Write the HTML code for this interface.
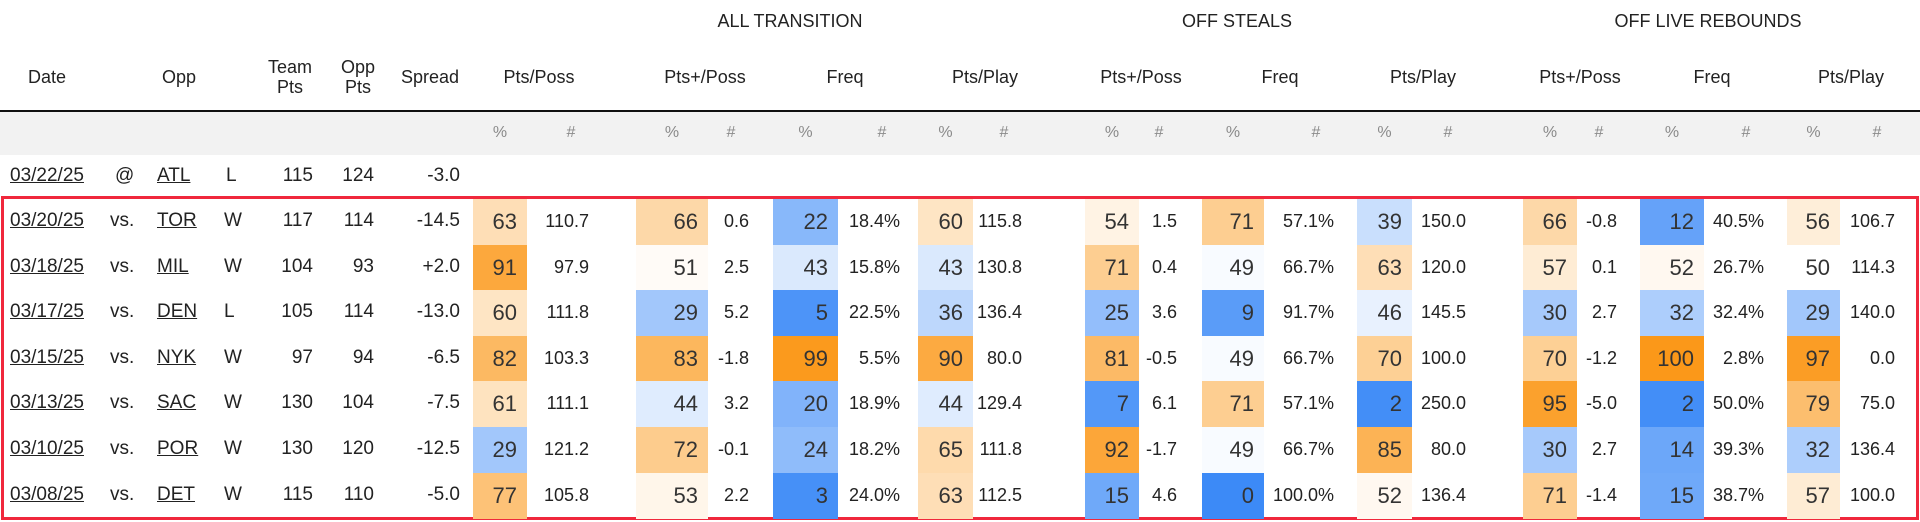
<!DOCTYPE html>
<html><head><meta charset="utf-8">
<style>
body{margin:0;width:1920px;height:522px;background:#fff;overflow:hidden;position:relative;font-family:"Liberation Sans",sans-serif;color:#222}
.a{position:absolute;white-space:nowrap}
.h{font-size:18px;color:#222;text-align:center;transform:translateX(-50%)}
.sub{font-size:16px;color:#8a8a8a;transform:translateX(-50%);top:124px}
.r{text-align:right;transform:translateX(-100%)}
</style></head>
<body>
<div class="a" style="left:0;top:110px;width:1920px;height:2px;background:#111"></div>
<div class="a" style="left:0;top:112px;width:1920px;height:43px;background:#f2f2f2"></div>
<div class="a" style="left:1px;top:196px;width:1912px;height:318px;border:3px solid #f0283c"></div>
<div id="root"></div>
<script>
const dates=["03/20/25","03/18/25","03/17/25","03/15/25","03/13/25","03/10/25","03/08/25"];
const opps=["TOR","MIL","DEN","NYK","SAC","POR","DET"];
const results=["W","W","L","W","W","W","W"];
const teamPts=[117,104,105,97,130,130,115];
const oppPts=[114,93,114,94,104,120,110];
const spreads=["-14.5","+2.0","-13.0","-6.5","-7.5","-12.5","-5.0"];
const ppPct=[63,91,60,82,61,29,77];
const ppVal=["110.7","97.9","111.8","103.3","111.1","121.2","105.8"];
const atPtsPct=[66,51,29,83,44,72,53];
const atPtsVal=["0.6","2.5","5.2","-1.8","3.2","-0.1","2.2"];
const atFreqPct=[22,43,5,99,20,24,3];
const atFreqVal=["18.4%","15.8%","22.5%","5.5%","18.9%","18.2%","24.0%"];
const atPlayPct=[60,43,36,90,44,65,63];
const atPlayVal=["115.8","130.8","136.4","80.0","129.4","111.8","112.5"];
const osPtsPct=[54,71,25,81,7,92,15];
const osPtsVal=["1.5","0.4","3.6","-0.5","6.1","-1.7","4.6"];
const osFreqPct=[71,49,9,49,71,49,0];
const osFreqVal=["57.1%","66.7%","91.7%","66.7%","57.1%","66.7%","100.0%"];
const osPlayPct=[39,63,46,70,2,85,52];
const osPlayVal=["150.0","120.0","145.5","100.0","250.0","80.0","136.4"];
const orPtsPct=[66,57,30,70,95,30,71];
const orPtsVal=["-0.8","0.1","2.7","-1.2","-5.0","2.7","-1.4"];
const orFreqPct=[12,52,32,100,2,14,15];
const orFreqVal=["40.5%","26.7%","32.4%","2.8%","50.0%","39.3%","38.7%"];
const orPlayPct=[56,50,29,97,79,32,57];
const orPlayVal=["106.7","114.3","140.0","0.0","75.0","136.4","100.0"];

const root=document.getElementById('root');
function add(txt,cls,style,name,inter){
  const d=document.createElement('div');
  d.className='a '+(cls||'');
  d.setAttribute('style',style);
  d.textContent=txt;
  
  
  root.appendChild(d);return d;
}
function heat(v){
  if(v>=50){const t=Math.pow((v-50)/50,0.85);
    return `rgb(${Math.round(255-4*t)},${Math.round(255-103*t)},${Math.round(255-230*t)})`;}
  const t=Math.pow((50-v)/50,0.85);
  return `rgb(${Math.round(255-195*t)},${Math.round(255-117*t)},${Math.round(255-8*t)})`;
}
add("ALL TRANSITION","h","left:790px;top:11px","group-all-transition",false);
add("OFF STEALS","h","left:1237px;top:11px","group-off-steals",false);
add("OFF LIVE REBOUNDS","h","left:1708px;top:11px","group-off-live-rebounds",false);
const heads=[["Date",47],["Opp",179],["Pts/Poss",539],["Pts+/Poss",705],["Freq",845],["Pts/Play",985],["Pts+/Poss",1141],["Freq",1280],["Pts/Play",1423],["Pts+/Poss",1580],["Freq",1712],["Pts/Play",1851],["Spread",430]];
heads.forEach(h=>add(h[0],"h",`left:${h[1]}px;top:67px`,"column-header",true));
add("Team\nPts","h",`left:290px;top:57px;white-space:pre;line-height:20px`,"column-header-team-pts",true);
add("Opp\nPts","h",`left:358px;top:57px;white-space:pre;line-height:20px`,"column-header-opp-pts",true);

const groups=[
 [ppPct,ppVal,473,527,589],
 [atPtsPct,atPtsVal,636,708,749],
 [atFreqPct,atFreqVal,773,838,900],
 [atPlayPct,atPlayVal,918,973,1022],
 [osPtsPct,osPtsVal,1085,1139,1177],
 [osFreqPct,osFreqVal,1202,1264,1334],
 [osPlayPct,osPlayVal,1357,1412,1466],
 [orPtsPct,orPtsVal,1523,1577,1617],
 [orFreqPct,orFreqVal,1640,1704,1764],
 [orPlayPct,orPlayVal,1787,1840,1895]
];
groups.forEach(g=>{
  add("%","sub",`left:${(g[2]+g[3])/2}px`,"subheader-percent",false);
  add("#","sub",`left:${g[4]-18}px`,"subheader-count",false);
});
const ty=165;
add("03/22/25","",`left:10px;top:${ty}px;font-size:19px;text-decoration:underline`,"game-date-link",true);
add("@","",`left:115px;top:${ty}px;font-size:19px`,"venue",false);
add("ATL","",`left:157px;top:${ty}px;font-size:19px;text-decoration:underline`,"opponent-link",true);
add("L","",`left:226px;top:${ty}px;font-size:19px`,"result",false);
add("115","r",`left:313px;top:${ty}px;font-size:19px`,"team-pts",false);
add("124","r",`left:374px;top:${ty}px;font-size:19px`,"opp-pts",false);
add("-3.0","r",`left:460px;top:${ty}px;font-size:19px`,"spread",false);

const y0=199,rh=45.6;
dates.forEach((d,i)=>{
  const top=y0+i*rh, ty=top+11;
  add(d,"",`left:10px;top:${ty}px;font-size:19px;text-decoration:underline`,"game-date-link",true);
  add("vs.","",`left:110px;top:${ty}px;font-size:19px`,"venue",false);
  add(opps[i],"",`left:157px;top:${ty}px;font-size:19px;text-decoration:underline`,"opponent-link",true);
  add(results[i],"",`left:224px;top:${ty}px;font-size:19px`,"result",false);
  add(String(teamPts[i]),"r",`left:313px;top:${ty}px;font-size:19px`,"team-pts",false);
  add(String(oppPts[i]),"r",`left:374px;top:${ty}px;font-size:19px`,"opp-pts",false);
  add(spreads[i],"r",`left:460px;top:${ty}px;font-size:19px`,"spread",false);
  groups.forEach(g=>{
    const v=g[0][i];
    add(String(v),"",`left:${g[2]}px;top:${top}px;width:${g[3]-g[2]-10}px;height:${rh+0.5}px;line-height:${rh}px;padding-right:10px;text-align:right;font-size:22px;background:${heat(v)};color:#333`,"percentile-cell",false);
    add(g[1][i],"r",`left:${g[4]}px;top:${ty+1}px;font-size:18px`,"stat-value",false);
  });
});
</script>
</body></html>
